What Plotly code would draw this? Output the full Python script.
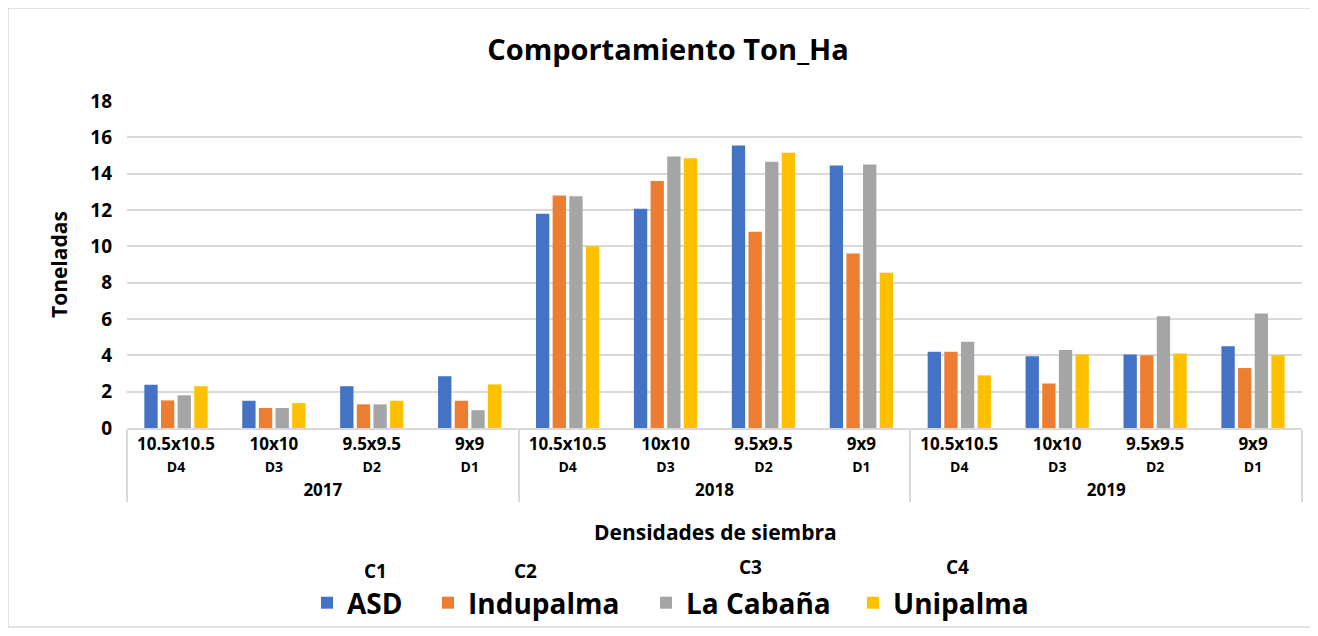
import plotly.graph_objects as go

years = ["2017", "2018", "2019"]
densities = ["10.5x10.5", "10x10", "9.5x9.5", "9x9"]
dcodes = ["D4", "D3", "D2", "D1"]

series_names = ["ASD", "Indupalma", "La Cabaña", "Unipalma"]
colors = ["#4472C4", "#ED7D31", "#A5A5A5", "#FFC000"]
clabels = ["C1", "C2", "C3", "C4"]

asd = [2.38, 1.5, 2.3, 2.85, 11.8, 12.07, 15.55, 14.45, 4.2, 3.95, 4.05, 4.5]
indupalma = [1.52, 1.1, 1.3, 1.5, 12.8, 13.6, 10.8, 9.6, 4.2, 2.45, 4.0, 3.3]
lacabana = [1.8, 1.1, 1.3, 0.98, 12.75, 14.95, 14.65, 14.5, 4.75, 4.3, 6.15, 6.3]
unipalma = [2.3, 1.37, 1.5, 2.4, 10.0, 14.85, 15.15, 8.55, 2.9, 4.05, 4.1, 4.0]
values = [asd, indupalma, lacabana, unipalma]

outer = [y for y in years for _ in densities]
inner = [f"{d}<br><span style='font-size:14px'>{c}</span>" for _ in years for d, c in zip(densities, dcodes)]

FONT = "'Open Sans', 'Noto Sans', sans-serif"

# page has an 8px body margin; figure size chosen to fit the window
FW, FH = 1306, 620
OFF = 8
# plot area in page pixels
L, R, T, B = 127, 1302, 101, 428
W, H = R - L, B - T
def px(x):
    return (x - L) / W
def py(y):
    return (B - y) / H
def cy(y):
    return 1 - (y - OFF) / FH

legend_ids = ["legend", "legend2", "legend3", "legend4"]
legend_sym_x = [328, 449, 667, 874]  # page x of each legend symbol centre

fig = go.Figure()
for name, col, vals, lid in zip(series_names, colors, values, legend_ids):
    fig.add_trace(go.Bar(x=[outer, inner], y=vals, name=name, marker_color=col,
                         marker_line_width=0, legend=lid))

annotations = [
    dict(text="<b>Densidades de siembra</b>", x=px(715), y=py(532), xref="paper", yref="paper",
         xanchor="center", yanchor="middle",
         showarrow=False, font=dict(size=21, color="#000", family=FONT)),
    dict(text="<b>Toneladas</b>", x=px(59), y=py(265), xref="paper", yref="paper",
         xanchor="center", yanchor="middle",
         showarrow=False, textangle=-90, font=dict(size=21, color="#000", family=FONT)),
]
for lab, xx, yy in zip(clabels, [375, 525, 750, 957], [571, 571, 567, 567]):
    annotations.append(dict(text=f"<b>{lab}</b>", x=px(xx), y=py(yy), xref="paper", yref="paper",
                            xanchor="center", yanchor="middle",
                            showarrow=False, font=dict(size=19, color="#000", family=FONT)))

legend_layout = {}
for lid, sx in zip(legend_ids, legend_sym_x):
    legend_layout[lid] = dict(orientation="h", x=px(sx - 21), xanchor="left", y=cy(603),
                              yref="container", yanchor="middle", bgcolor="rgba(0,0,0,0)",
                              font=dict(size=28, color="#000", family=FONT, weight="bold"),
                              itemwidth=30)

fig.update_layout(
    width=FW, height=FH,
    margin=dict(l=L - OFF, r=FW - (R - OFF), t=T - OFF, b=FH - (B - OFF), pad=0, autoexpand=False),
    paper_bgcolor="white", plot_bgcolor="white",
    title=dict(text="<b>Comportamiento Ton_Ha</b>", x=px(668), xref="paper", xanchor="center",
               y=cy(50), yanchor="middle",
               font=dict(size=29, color="#000", family=FONT)),
    barmode="group", bargap=0.32, bargroupgap=0.2,
    font=dict(family=FONT, color="#000"),
    showlegend=True,
    annotations=annotations,
    shapes=[dict(type="rect", xref="paper", yref="paper", x0=px(8), x1=px(1312), y0=py(627), y1=py(8),
                 line=dict(color="#D9D9D9", width=1.5), fillcolor="rgba(0,0,0,0)", layer="below")],
    **legend_layout,
)
fig.update_yaxes(range=[0, 18], dtick=2, showgrid=True, gridcolor="#D9D9D9", gridwidth=1.5,
                 zeroline=False, showline=False, ticks="", ticklabelstandoff=14,
                 tickfont=dict(size=19, color="#000", family=FONT, weight="bold"))
fig.update_xaxes(type="multicategory", showline=True, linecolor="#D9D9D9", linewidth=1.5,
                 showdividers=True, dividercolor="#D9D9D9", dividerwidth=1.5, ticks="",
                 tickfont=dict(size=17, color="#000", family=FONT, weight="bold"))

fig.write_html("out.html")
